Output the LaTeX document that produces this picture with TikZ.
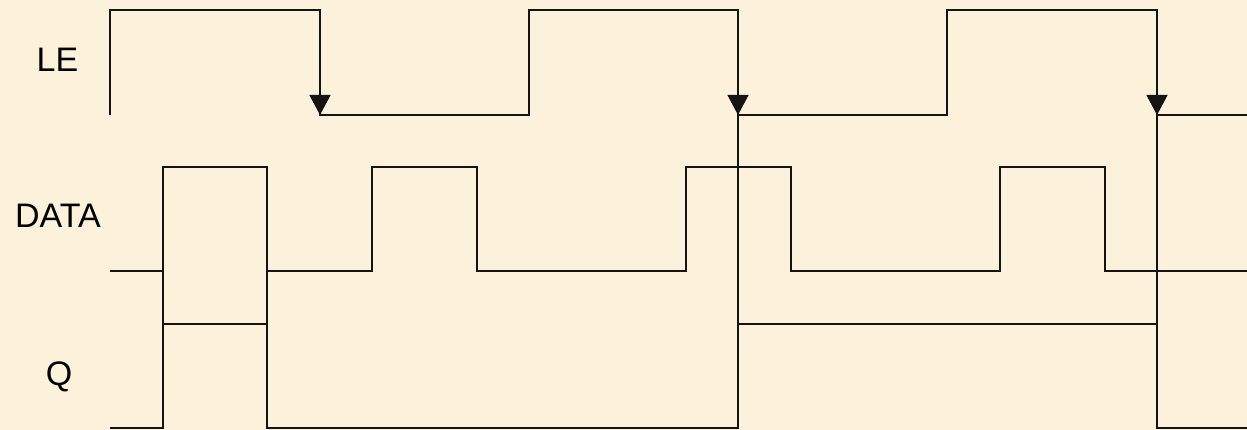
\documentclass[tikz,border=0pt]{standalone}
\usepackage{fontspec}
\setmainfont{Liberation Sans}
\usetikzlibrary{arrows.meta}
\definecolor{parch}{RGB}{252,242,219}
\definecolor{wave}{RGB}{20,20,20}
\tikzset{
  sig/.style={draw=wave, line width=1.2pt, line join=miter},
  edgearrow/.style={draw=wave, line width=1.2pt, -{Triangle[width=21pt,length=20pt]}},
  lbl/.style={anchor=base, inner sep=0pt, font=\fontsize{34}{40}\selectfont}
}
\begin{document}
\begin{tikzpicture}[x=1pt,y=-1pt]
  \fill[parch] (0,0) rectangle (1247,430);
  \useasboundingbox (0,0) rectangle (1247,430);
  % labels
  \node[lbl] (lle) at (57.5,72) {LE};
  \node[lbl] (ldata) at (58,228) {DATA};
  \node[lbl] (lq) at (59,385) {Q};
  % LE waveform
  \draw[sig] (110,115) -- (110,10) -- (320,10) -- (320,115) -- (529,115) -- (529,10)
    -- (738,10) -- (738,115) -- (947,115) -- (947,10) -- (1157,10) -- (1157,115) -- (1247,115);
  % falling edge markers
  \coordinate (a1s) at (320,95); \coordinate (a1e) at (320,115);
  \coordinate (a2s) at (738,95); \coordinate (a2e) at (738,115);
  \coordinate (a3s) at (1157,95); \coordinate (a3e) at (1157,115);
  \draw[edgearrow] (a1s) -- (a1e);
  \draw[edgearrow] (a2s) -- (a2e);
  \draw[edgearrow] (a3s) -- (a3e);
  % DATA waveform
  \draw[sig] (110,271) -- (163,271) -- (163,167) -- (267,167) -- (267,271) -- (372,271)
    -- (372,167) -- (477,167) -- (477,271) -- (686,271) -- (686,167) -- (791,167)
    -- (791,271) -- (1000,271) -- (1000,167) -- (1105,167) -- (1105,271) -- (1247,271);
  % Q waveform
  \draw[sig] (110,428) -- (163,428) -- (163,324) -- (267,324) -- (267,428) -- (738,428)
    -- (738,324) -- (1157,324) -- (1157,428) -- (1247,428);
  % vertical guide lines
  \draw[sig] (163,271) -- (163,324);
  \draw[sig] (267,271) -- (267,324);
  \draw[sig] (738,115) -- (738,324);
  \draw[sig] (1157,115) -- (1157,324);
\end{tikzpicture}
\end{document}
